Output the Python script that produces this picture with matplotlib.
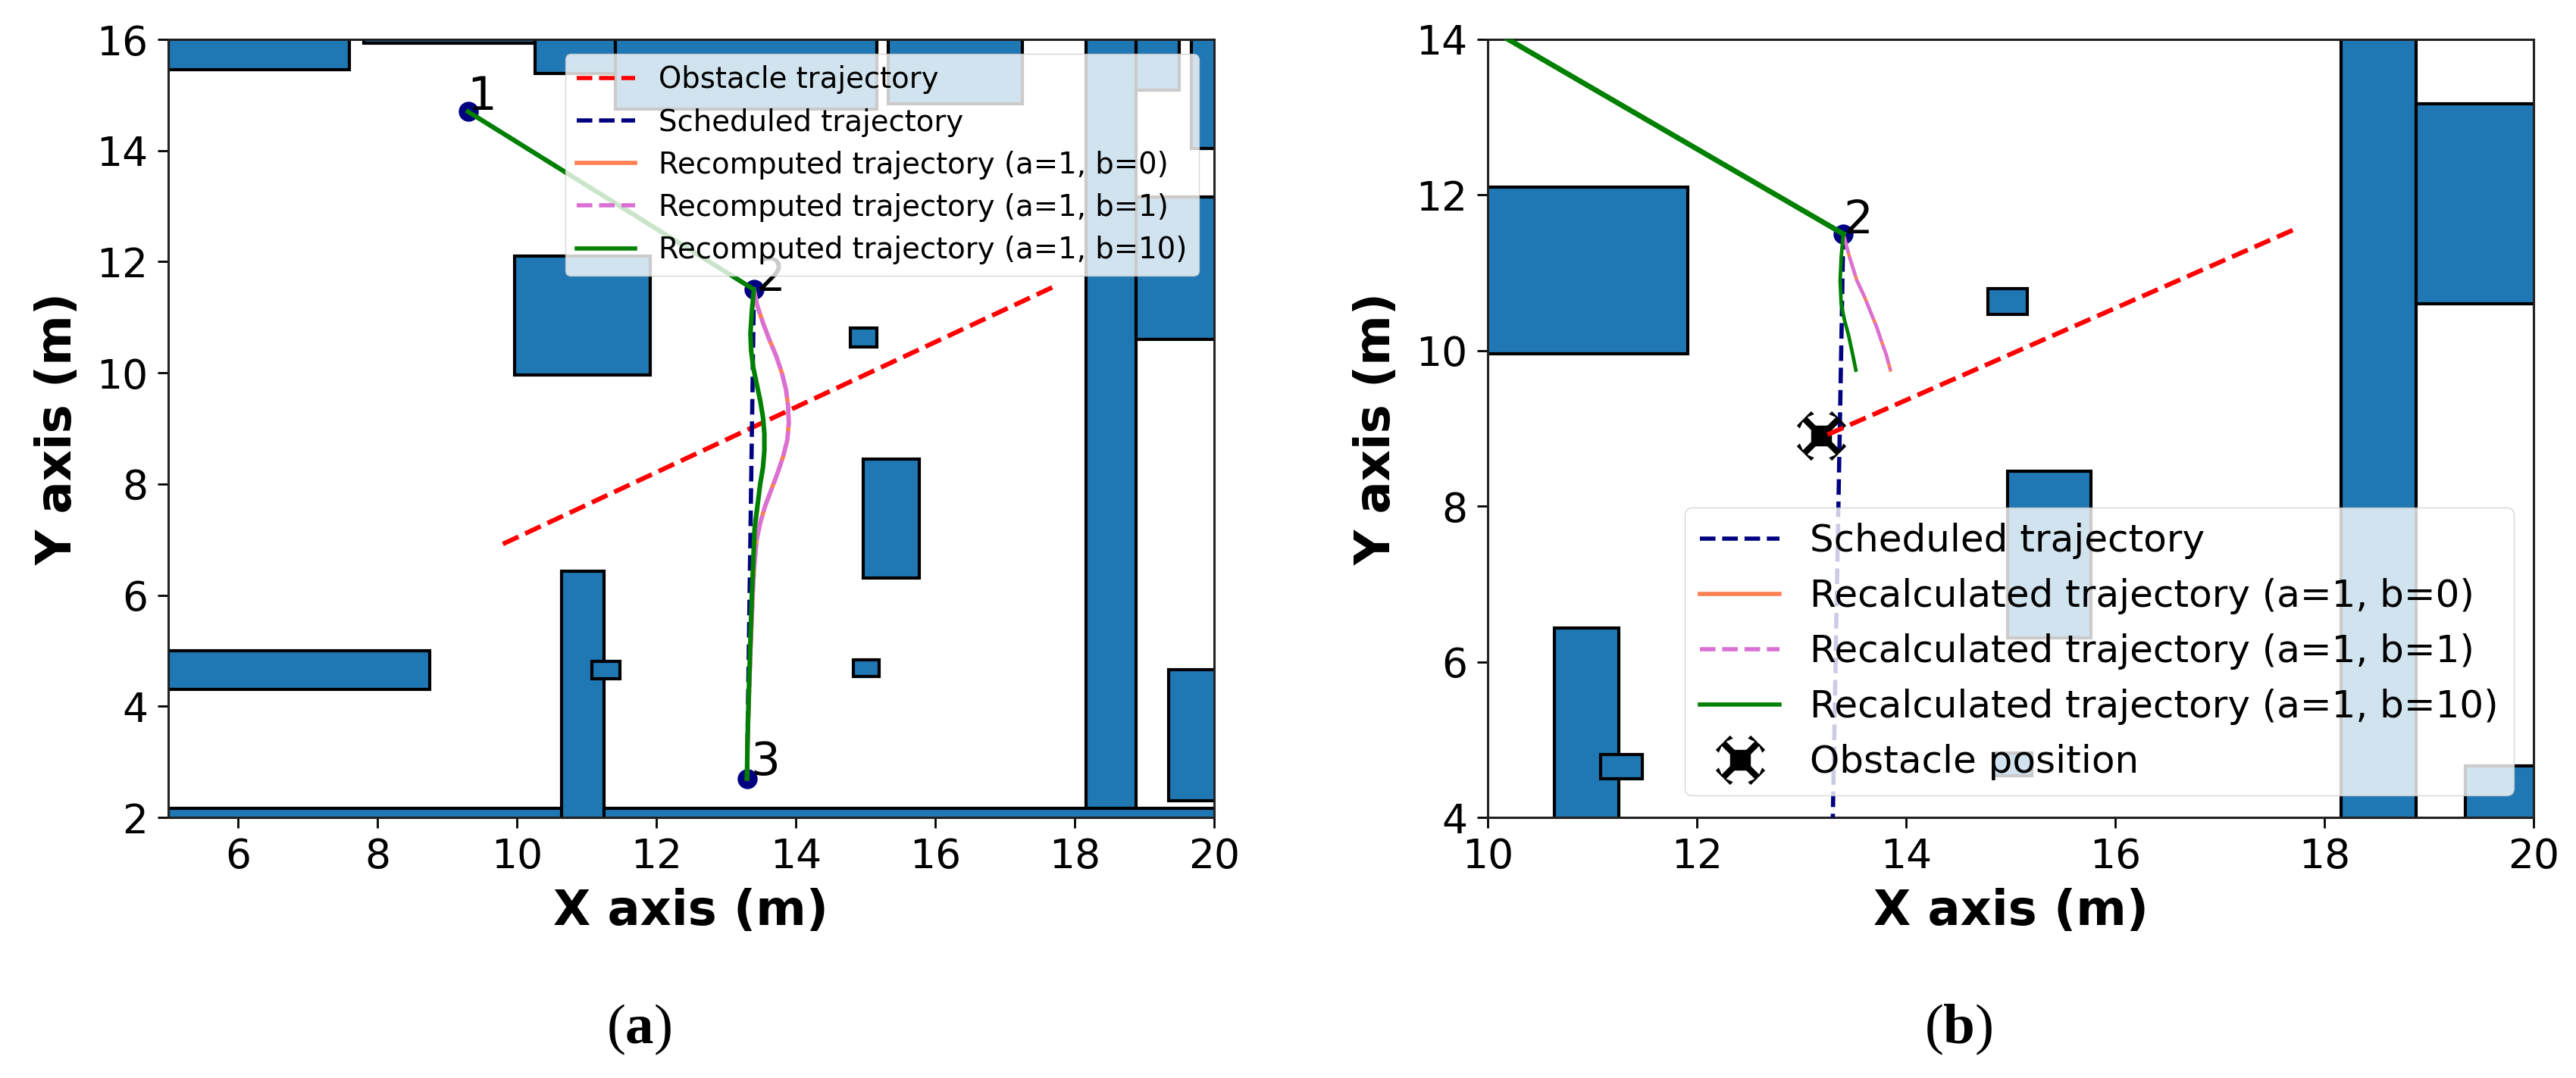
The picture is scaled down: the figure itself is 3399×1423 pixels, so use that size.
import matplotlib
matplotlib.use('Agg')
import matplotlib.pyplot as plt
from matplotlib.lines import Line2D
from matplotlib.patches import Rectangle
from matplotlib.path import Path
import numpy as np

W, H = 3399, 1423
plt.rcParams['mathtext.fontset'] = 'custom'
plt.rcParams['mathtext.bf'] = 'Liberation Serif:bold'
plt.rcParams['mathtext.rm'] = 'Liberation Serif'

# obstacles (x0, x1, y0, y1 as separate lists)
obs_x0 = [5.0, 7.8, 10.26, 11.41, 15.33, 18.16, 18.88, 19.67, 18.88, 9.97, 14.78, 14.97, 14.83, 19.35, 5.0, 5.0, 10.64, 11.08]
obs_x1 = [7.6, 10.26, 11.41, 15.16, 17.25, 18.88, 19.5, 20.1, 20.1, 11.91, 15.16, 15.77, 15.2, 20.1, 20.1, 8.75, 11.25, 11.48]
obs_y0 = [15.46, 15.93, 15.39, 14.75, 14.84, 2.04, 15.09, 14.04, 10.6, 9.96, 10.47, 6.31, 4.54, 2.3, 1.9, 4.3, 1.9, 4.5]
obs_y1 = [16.1, 16.1, 16.1, 16.1, 16.1, 16.1, 16.1, 16.1, 13.17, 12.1, 10.8, 8.45, 4.83, 4.66, 2.16, 5.0, 6.43, 4.81]

leg1_x = [9.3, 13.4]
leg1_y = [14.7, 11.5]
wp_x = [9.3, 13.4, 13.3]
wp_y = [14.7, 11.5, 2.7]
wp_labels = ['1', '2', '3']

sched_x = [9.3, 13.4, 13.3]
sched_y = [14.7, 11.5, 2.7]
obst_x = [9.8, 17.7]
obst_y = [6.92, 11.55]
obst_b_x = [13.25, 17.7]
obst_b_y = [8.92, 11.55]
obst_pos_x = [13.19]
obst_pos_y = [8.91]

traj_b0_x = [13.4, 13.45, 13.53, 13.62, 13.72, 13.8, 13.86, 13.89, 13.9, 13.88, 13.82, 13.74, 13.65, 13.56, 13.49, 13.44, 13.41, 13.39, 13.37, 13.35, 13.33, 13.31, 13.3]
traj_b0_y = [11.5, 11.2, 10.9, 10.6, 10.3, 10.0, 9.7, 9.4, 9.1, 8.8, 8.5, 8.2, 7.9, 7.6, 7.3, 7.0, 6.6, 6.2, 5.6, 5.0, 4.2, 3.4, 2.7]
traj_b10_x = [13.4, 13.37, 13.35, 13.36, 13.39, 13.44, 13.49, 13.53, 13.55, 13.55, 13.53, 13.49, 13.45, 13.41, 13.39, 13.37, 13.35, 13.33, 13.31, 13.3]
traj_b10_y = [11.5, 11.1, 10.7, 10.4, 10.1, 9.8, 9.5, 9.2, 8.9, 8.6, 8.3, 8.0, 7.6, 7.2, 6.6, 6.0, 5.2, 4.4, 3.5, 2.7]

traj_b_b0_x = [13.4, 13.46, 13.53, 13.6, 13.66, 13.72, 13.77, 13.81, 13.85]
traj_b_b0_y = [11.5, 11.2, 10.9, 10.7, 10.5, 10.3, 10.1, 9.95, 9.75]
traj_b_b10_x = [13.4, 13.38, 13.37, 13.38, 13.41, 13.45, 13.49, 13.52]
traj_b_b10_y = [11.5, 11.2, 10.9, 10.6, 10.4, 10.2, 9.95, 9.75]
sched_b_x = [13.4, 13.3]
sched_b_y = [11.5, 4.0]

xlabel = 'X axis (m)'
ylabel = 'Y axis (m)'
legend_a = ['Obstacle trajectory', 'Scheduled trajectory', 'Recomputed trajectory (a=1, b=0)',
            'Recomputed trajectory (a=1, b=1)', 'Recomputed trajectory (a=1, b=10)']
legend_b = ['Scheduled trajectory', 'Recalculated trajectory (a=1, b=0)', 'Recalculated trajectory (a=1, b=1)',
            'Recalculated trajectory (a=1, b=10)', 'Obstacle position']


def drone_path():
    v, c = [], []
    def poly(pts):
        xs, ys = np.array(pts).T
        area = np.sum(xs * np.roll(ys, -1) - np.roll(xs, -1) * ys)
        if area < 0:
            pts = pts[::-1]
        for i, p in enumerate(pts):
            v.append(p)
            c.append(Path.MOVETO if i == 0 else Path.LINETO)
        v.append(pts[0]); c.append(Path.CLOSEPOLY)
    poly([(-.42, -.3), (-.3, -.42), (.3, -.42), (.42, -.3), (.42, .3), (.3, .42), (-.3, .42), (-.42, .3)])
    for sx in (-1, 1):
        for sy in (-1, 1):
            poly([(sx*.2, sy*.38), (sx*.38, sy*.2), (sx*.78, sy*.6), (sx*.6, sy*.78)])
            poly([(sx*1.0, sy*.42), (sx*.42, sy*1.0), (sx*.3, sy*.88), (sx*.7, sy*.7), (sx*.88, sy*.3)])
    return Path(np.array(v), c)


DRONE = drone_path()
BLUE = '#1f77b4'


def base(ax, xlim, ylim, xt, yt, ylab_x):
    for x0, x1, y0, y1 in zip(obs_x0, obs_x1, obs_y0, obs_y1):
        ax.add_patch(Rectangle((x0, y0), x1 - x0, y1 - y0, fc=BLUE, ec='black', lw=3, zorder=1))
    ax.set_xlim(*xlim); ax.set_ylim(*ylim)
    ax.set_xticks(xt); ax.set_yticks(yt)
    ax.tick_params(labelsize=38.5, length=10, width=2, pad=9)
    for s in ax.spines.values():
        s.set_linewidth(2.2); s.set_color('#222222')
    ax.set_xlabel(xlabel, fontsize=46, fontweight='bold')
    ax.set_ylabel(ylabel, fontsize=46, fontweight='bold')
    ax.yaxis.set_label_coords(ylab_x, .5)
    ax.xaxis.set_label_coords(.5, -0.0906)


fig = plt.figure(figsize=(W/100, H/100), dpi=100, facecolor='white')
axa = fig.add_axes([222/W, 1 - 1079/H, (1602-222)/W, (1079-52)/H])
axb = fig.add_axes([1963/W, 1 - 1079/H, (3343-1963)/W, (1079-52)/H])

# panel a
base(axa, (5, 20), (2, 16), list(range(6, 21, 2)), list(range(2, 17, 2)), -0.0826)
axa.plot(obst_x, obst_y, color='red', ls='--', lw=4.4, zorder=3)
axa.plot(sched_x, sched_y, color='navy', ls='--', lw=4, zorder=3)
axa.plot(wp_x, wp_y, 'o', color='navy', ms=19, mew=0, zorder=3)
axa.plot(traj_b0_x, traj_b0_y, color='coral', lw=4, zorder=3)
axa.plot(traj_b0_x, traj_b0_y, color='orchid', ls=(0, (6, 1)), lw=4, zorder=3)
axa.plot(leg1_x + traj_b10_x, leg1_y + traj_b10_y, color='green', lw=4.4, zorder=3)
for x, y, s, dx, dy in zip(wp_x, wp_y, wp_labels, [-.02, .03, .05], [-.14, -.2, -.12]):
    axa.text(x + dx, y + dy, s, fontsize=44, va='bottom', ha='left', zorder=3)
handles_a = [Line2D([], [], color='red', ls='--', lw=4), Line2D([], [], color='navy', ls='--', lw=4),
             Line2D([], [], color='coral', lw=4), Line2D([], [], color='orchid', ls='--', lw=4),
             Line2D([], [], color='green', lw=4)]
lega = axa.legend(handles_a, legend_a, loc='upper right', bbox_to_anchor=(1582/W, 1 - 71/H),
                  bbox_transform=fig.transFigure, fontsize=27.8, borderaxespad=0, labelspacing=.47, borderpad=.4)
lega.set_zorder(10)

# panel b
base(axb, (10, 20), (4, 14), list(range(10, 21, 2)), list(range(4, 15, 2)), -0.0833)
axb.plot(sched_b_x, sched_b_y, color='navy', ls='--', lw=4, zorder=3)
axb.plot(obst_pos_x, obst_pos_y, ls='none', marker=DRONE, ms=47, color='black', mew=0, zorder=3)
axb.plot(obst_b_x, obst_b_y, color='red', ls='--', lw=4.4, zorder=4)
axb.plot(wp_x[1:2], wp_y[1:2], 'o', color='navy', ms=19, mew=0, zorder=3)
axb.plot(traj_b_b0_x, traj_b_b0_y, color='coral', lw=3.2, zorder=3)
axb.plot(traj_b_b0_x, traj_b_b0_y, color='orchid', ls=(0, (6, 1)), lw=3.2, zorder=3)
axb.plot(leg1_x, leg1_y, color='green', lw=5, zorder=3)
axb.plot(traj_b_b10_x, traj_b_b10_y, color='green', lw=3.4, zorder=3)
axb.text(wp_x[1] + .0, wp_y[1] - .12, wp_labels[1], fontsize=44, va='bottom', ha='left', zorder=3)
handles_b = [Line2D([], [], color='navy', ls='--', lw=4), Line2D([], [], color='coral', lw=4),
             Line2D([], [], color='orchid', ls='--', lw=4), Line2D([], [], color='green', lw=4),
             Line2D([], [], ls='none', marker=DRONE, ms=47, color='black', mew=0)]
legb = axb.legend(handles_b, legend_b, loc='upper right', bbox_to_anchor=(3317/W, 1 - 670/H),
                  bbox_transform=fig.transFigure, fontsize=36, borderaxespad=0, labelspacing=.5, borderpad=.4,
                  handlelength=2.1)
legb.set_zorder(10)

for xc, s in [(843, r'($\mathbf{a}$)'), (2584, r'($\mathbf{b}$)')]:
    fig.text(xc/W, 1 - 1359/H, s, fontsize=54, family='Liberation Serif', ha='center', va='center')

fig.savefig('out.png', dpi=100)
